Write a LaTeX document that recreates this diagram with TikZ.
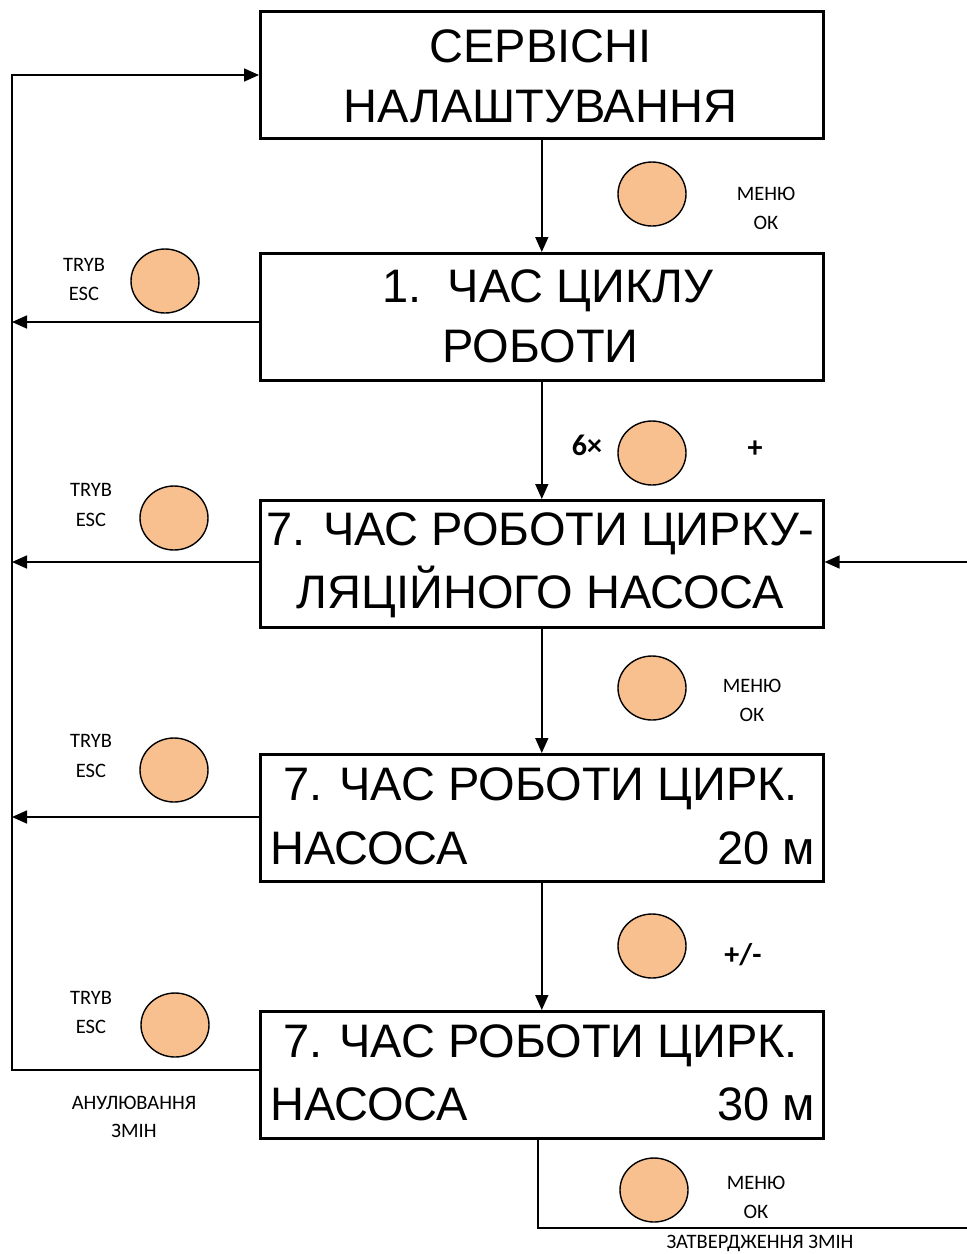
\documentclass[tikz,border=0pt]{standalone}
\usepackage{fontspec}
\setmainfont{Liberation Sans}
\newfontfamily\calib{Carlito}
\usetikzlibrary{arrows.meta,shapes.geometric}
\definecolor{btnfill}{RGB}{248,192,143}
\begin{document}
\begin{tikzpicture}[x=1pt,y=-1pt,
  box/.style={draw, line width=2.6pt, minimum width=563pt, minimum height=127pt, inner sep=0pt, anchor=north west},
  big/.style={font=\fontsize{47}{56}\selectfont, inner sep=0pt, anchor=base},
  small/.style={font=\calib\fontsize{20.5}{24}\selectfont, inner sep=0pt, anchor=base},
  bold/.style={font=\calib\bfseries\fontsize{30}{34}\selectfont, inner sep=0pt, anchor=base},
  btn/.style={draw, line width=1.4pt, fill=btnfill, ellipse, minimum width=68pt, minimum height=64pt, inner sep=0pt},
  conn/.style={draw, line width=1.6pt},
  arr/.style={conn, -{Triangle[length=15pt,width=13pt]}}]
\useasboundingbox (0,0) rectangle (967,1254);

% boxes
\node[box] (b1) at (259,10) {};
\node[box] (b2) at (259,252) {};
\node[box] (b3) at (259,499) {};
\node[box] (b4) at (259,753) {};
\node[box] (b5) at (259,1010) {};

% box texts
\node[big] (t1a) at (540.5,62) {СЕРВІСНІ};
\node[big] (t1b) at (540.5,122) {НАЛАШТУВАННЯ};
\node[big] (t2a) at (548,302) {1.\ \ ЧАС ЦИКЛУ};
\node[big] (t2b) at (540.5,362) {РОБОТИ};
\node[big] (t3a) at (540.5,545) {7. ЧАС РОБОТИ ЦИРКУ-};
\node[big] (t3b) at (540.5,608) {ЛЯЦІЙНОГО НАСОСА};
\node[big] (t4a) at (540.5,800) {7. ЧАС РОБОТИ ЦИРК.};
\node[big, anchor=base west] (t4b) at (270,864) {НАСОСА};
\node[big, anchor=base east] (t4c) at (815,864) {20 м};
\node[big] (t5a) at (540.5,1057) {7. ЧАС РОБОТИ ЦИРК.};
\node[big, anchor=base west] (t5b) at (270,1120) {НАСОСА};
\node[big, anchor=base east] (t5c) at (815,1120) {30 м};

% buttons
\node[btn] (c1) at (652,194) {};
\node[btn] (c2) at (165,281) {};
\node[btn] (c3) at (652,453) {};
\node[btn] (c4) at (174,518) {};
\node[btn] (c5) at (652,688) {};
\node[btn] (c6) at (174,770) {};
\node[btn] (c7) at (652,946) {};
\node[btn] (c8) at (175,1025) {};
\node[btn] (c9) at (654,1190) {};

% button labels
\node[small] (m1a) at (766,200) {МЕНЮ};
\node[small] (m1b) at (766,229) {ОК};
\node[small] (k2a) at (84,271) {TRYB};
\node[small] (k2b) at (84,300) {ESC};
\node[bold] (x6) at (587,455) {6×};
\node[bold] (pl) at (755,457) {+};
\node[small] (k4a) at (91,496) {TRYB};
\node[small] (k4b) at (91,526) {ESC};
\node[small] (m5a) at (752,692) {МЕНЮ};
\node[small] (m5b) at (752,721) {ОК};
\node[small] (k6a) at (91,747) {TRYB};
\node[small] (k6b) at (91,777) {ESC};
\node[bold] (pm) at (743,964) {+/-};
\node[small] (k8a) at (91,1004) {TRYB};
\node[small] (k8b) at (91,1033) {ESC};
\node[small] (m9a) at (756,1189) {МЕНЮ};
\node[small] (m9b) at (756,1218) {ОК};
\node[small] (an1) at (134,1109) {АНУЛЮВАННЯ};
\node[small] (an2) at (134,1137) {ЗМІН};
\node[small] (zt) at (760,1248) {ЗАТВЕРДЖЕННЯ ЗМІН};

% vertical flow
\draw[arr] (b1.south) -- (b2.north);
\draw[arr] (b2.south) -- (b3.north);
\draw[arr] (b3.south) -- (b4.north);
\draw[arr] (b4.south) -- (b5.north);

% left return line
\coordinate (Ltop) at (12,75);
\coordinate (Lbot) at (12,1070);
\draw[arr] (b5.west |- Lbot) -- (Lbot) -- (Ltop) -- (b1.west |- Ltop);
\coordinate (e2) at (12,322);
\coordinate (e3) at (12,562);
\coordinate (e4) at (12,817);
\draw[arr] (b2.west |- e2) -- (e2);
\draw[arr] (b3.west |- e3) -- (e3);
\draw[arr] (b4.west |- e4) -- (e4);

% right entry
\coordinate (R) at (967,562);
\draw[arr] (R) -- (b3.east |- R);

% bottom confirm line
\coordinate (B1) at (538,1228);
\coordinate (B2) at (967,1228);
\draw[conn] (b5.south -| B1) -- (B1) -- (B2);
\end{tikzpicture}
\end{document}
